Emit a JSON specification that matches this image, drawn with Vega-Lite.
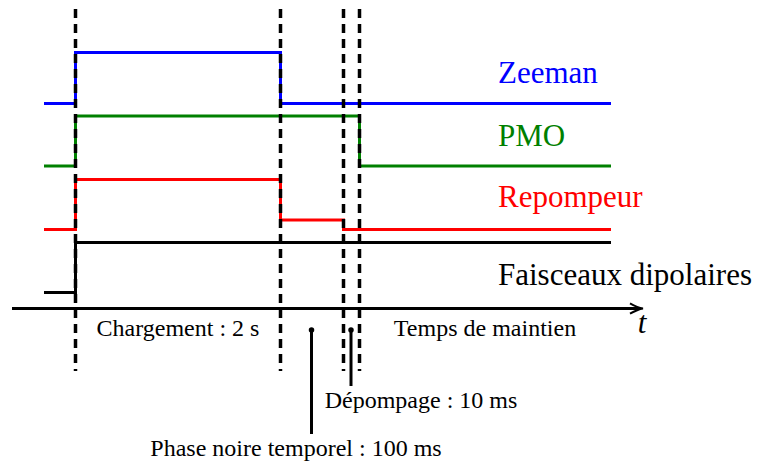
{
  "$schema": "https://vega.github.io/schema/vega-lite/v6.json",
  "width": 765,
  "height": 461,
  "autosize": {"type": "none"},
  "padding": 0,
  "background": "white",
  "config": {"view": {"stroke": null}, "text": {"font": "Liberation Serif"}},
  "datasets": {
    "signals": [
      {"sig": "Zeeman", "i": 1, "x": 44, "y": 103.5},
      {"sig": "Zeeman", "i": 2, "x": 75.5, "y": 103.5},
      {"sig": "Zeeman", "i": 3, "x": 75.5, "y": 52.5},
      {"sig": "Zeeman", "i": 4, "x": 280.5, "y": 52.5},
      {"sig": "Zeeman", "i": 5, "x": 280.5, "y": 103.5},
      {"sig": "Zeeman", "i": 6, "x": 611, "y": 103.5},
      {"sig": "PMO", "i": 1, "x": 44, "y": 166},
      {"sig": "PMO", "i": 2, "x": 75.5, "y": 166},
      {"sig": "PMO", "i": 3, "x": 75.5, "y": 116},
      {"sig": "PMO", "i": 4, "x": 359.5, "y": 116},
      {"sig": "PMO", "i": 5, "x": 359.5, "y": 166},
      {"sig": "PMO", "i": 6, "x": 611, "y": 166},
      {"sig": "Repompeur", "i": 1, "x": 44, "y": 229.5},
      {"sig": "Repompeur", "i": 2, "x": 75.5, "y": 229.5},
      {"sig": "Repompeur", "i": 3, "x": 75.5, "y": 179.5},
      {"sig": "Repompeur", "i": 4, "x": 280.5, "y": 179.5},
      {"sig": "Repompeur", "i": 5, "x": 280.5, "y": 220},
      {"sig": "Repompeur", "i": 6, "x": 343.5, "y": 220},
      {"sig": "Repompeur", "i": 7, "x": 343.5, "y": 229.5},
      {"sig": "Repompeur", "i": 8, "x": 611, "y": 229.5},
      {"sig": "Faisceaux dipolaires", "i": 1, "x": 44, "y": 292.5},
      {"sig": "Faisceaux dipolaires", "i": 2, "x": 75.5, "y": 292.5},
      {"sig": "Faisceaux dipolaires", "i": 3, "x": 75.5, "y": 242.5},
      {"sig": "Faisceaux dipolaires", "i": 4, "x": 611, "y": 242.5}
    ],
    "markers": [
      {"x": 75.5, "y": 9, "y2": 371},
      {"x": 280.5, "y": 9, "y2": 371},
      {"x": 343.5, "y": 9, "y2": 371},
      {"x": 359.5, "y": 9, "y2": 371}
    ],
    "axisline": [{"x": 12, "x2": 641, "y": 308.5}],
    "arrow": [{"x": 643, "y": 308.5}],
    "pointers": [
      {"x": 311.5, "y": 330, "y2": 434},
      {"x": 351, "y": 330, "y2": 386}
    ],
    "siglabels": [
      {"label": "Zeeman", "x": 498, "y": 82.7},
      {"label": "PMO", "x": 498, "y": 146},
      {"label": "Repompeur", "x": 498, "y": 206.7},
      {"label": "Faisceaux dipolaires", "x": 498, "y": 285}
    ],
    "notes": [
      {"label": "Chargement : 2 s", "x": 178, "y": 336},
      {"label": "Temps de maintien", "x": 485, "y": 336},
      {"label": "Dépompage : 10 ms", "x": 421, "y": 408.3},
      {"label": "Phase noire temporel : 100 ms", "x": 296, "y": 455.7}
    ],
    "tlabel": [{"label": "t", "x": 642, "y": 333}]
  },
  "encoding": {
    "x": {"field": "x", "type": "quantitative", "scale": {"domain": [0, 765], "nice": false, "zero": false}, "axis": null},
    "y": {"field": "y", "type": "quantitative", "scale": {"domain": [0, 461], "nice": false, "zero": false, "reverse": true}, "axis": null}
  },
  "layer": [
    {
      "data": {"name": "signals"},
      "mark": {"type": "line", "strokeWidth": 3, "strokeJoin": "miter", "strokeCap": "butt"},
      "encoding": {
        "color": {"field": "sig", "type": "nominal", "legend": null,
          "scale": {"domain": ["Zeeman", "PMO", "Repompeur", "Faisceaux dipolaires"], "range": ["#0000ff", "#008000", "#ff0000", "#000000"]}},
        "order": {"field": "i", "type": "quantitative"}
      }
    },
    {
      "data": {"name": "markers"},
      "mark": {"type": "rule", "strokeWidth": 3.5, "strokeDash": [9, 6], "color": "black", "opacity": 1},
      "encoding": {"y2": {"field": "y2"}}
    },
    {
      "data": {"name": "axisline"},
      "mark": {"type": "rule", "strokeWidth": 3, "color": "black", "opacity": 1},
      "encoding": {"x2": {"field": "x2"}}
    },
    {
      "data": {"name": "arrow"},
      "mark": {"type": "point", "shape": "M-1,-0.4 Q-0.4,-0.06 0,0 Q-0.4,0.06 -1,0.4", "size": 676, "filled": false, "stroke": "black", "strokeWidth": 2, "opacity": 1}
    },
    {
      "data": {"name": "pointers"},
      "mark": {"type": "rule", "strokeWidth": 3, "color": "black", "opacity": 1},
      "encoding": {"y2": {"field": "y2"}}
    },
    {
      "data": {"name": "pointers"},
      "mark": {"type": "point", "shape": "circle", "size": 30, "filled": true, "color": "black", "opacity": 1}
    },
    {
      "data": {"name": "siglabels"},
      "mark": {"type": "text", "font": "Liberation Serif", "fontSize": 31, "align": "left", "baseline": "alphabetic"},
      "encoding": {
        "text": {"field": "label"},
        "color": {"field": "label", "type": "nominal", "legend": null,
          "scale": {"domain": ["Zeeman", "PMO", "Repompeur", "Faisceaux dipolaires"], "range": ["#0000ff", "#008000", "#ff0000", "#000000"]}}
      }
    },
    {
      "data": {"name": "notes"},
      "mark": {"type": "text", "font": "Liberation Serif", "fontSize": 24, "align": "center", "baseline": "alphabetic", "color": "black"},
      "encoding": {"text": {"field": "label"}}
    },
    {
      "data": {"name": "tlabel"},
      "mark": {"type": "text", "font": "Liberation Serif", "fontSize": 31, "fontStyle": "italic", "align": "center", "baseline": "alphabetic", "color": "black"},
      "encoding": {"text": {"field": "label"}}
    }
  ]
}
